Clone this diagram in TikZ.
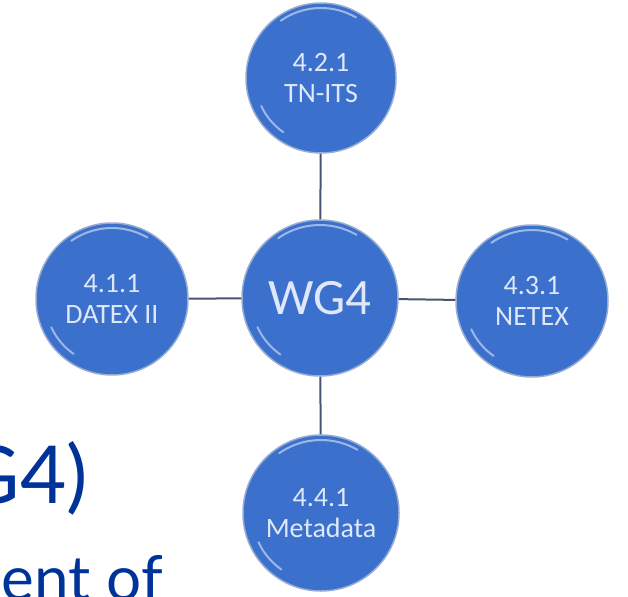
\documentclass[tikz,border=0pt]{standalone}
\usepackage{fontspec}
\setmainfont{Carlito}
\newfontfamily\titlefont{Lato}
\definecolor{ballblue}{RGB}{60,112,205}
\definecolor{ballrim}{RGB}{150,172,210}
\definecolor{balltext}{RGB}{222,232,250}
\definecolor{linkgray}{RGB}{72,84,112}
\definecolor{titleblue}{RGB}{0,51,153}
\tikzset{
  ball/.style={circle, fill=ballblue, draw=ballrim, line width=1.5pt, inner sep=0pt,
    text=balltext, align=center, font=\fontsize{28}{31}\selectfont},
  link/.style={draw=linkgray, line width=2pt},
  gloss/.style={white, opacity=0.5, line width=2pt, line cap=round},
}
\begin{document}
\begin{tikzpicture}[x=1pt,y=-1pt]
\useasboundingbox (0,0) rectangle (628,596);
\clip (0,0) rectangle (628,596);
\node[ball, minimum size=150pt] (top) at (321,78) {4.2.1\\TN-ITS};
\node[ball, minimum size=152pt] (left) at (112,299) {4.1.1\\DATEX II};
\node[ball, minimum size=152pt] (right) at (532,301) {4.3.1\\NETEX};
\node[ball, minimum size=156pt] (bottom) at (321,513) {4.4.1\\Metadata};
\node[ball, minimum size=156pt, font=\fontsize{51}{52}\selectfont] (wg) at (320,298) {WG4};
\path[link] (top) -- (wg);
\path[link] (left) -- (wg);
\path[link] (wg) -- (right);
\path[link] (wg) -- (bottom);
% gloss highlights (y axis points down: negative angles are upward)
\foreach \n/\r in {top/70, left/71, right/71, bottom/73, wg/73}{
  \draw[gloss] (\n.center) ++(-125:\r) arc[start angle=-125, end angle=-60, radius=\r];
  \draw[gloss] (\n.center) ++(125:\r-4) arc[start angle=125, end angle=155, radius=\r-4];
}
\node[font=\titlefont\fontsize{80}{80}\selectfont, text=titleblue, anchor=base east, inner sep=0pt] (title) at (88,503) {G4)};
\node[font=\titlefont\fontsize{62}{62}\selectfont, text=titleblue, anchor=base east, inner sep=0pt] (sub) at (163,600) {ent of};
\end{tikzpicture}
\end{document}
